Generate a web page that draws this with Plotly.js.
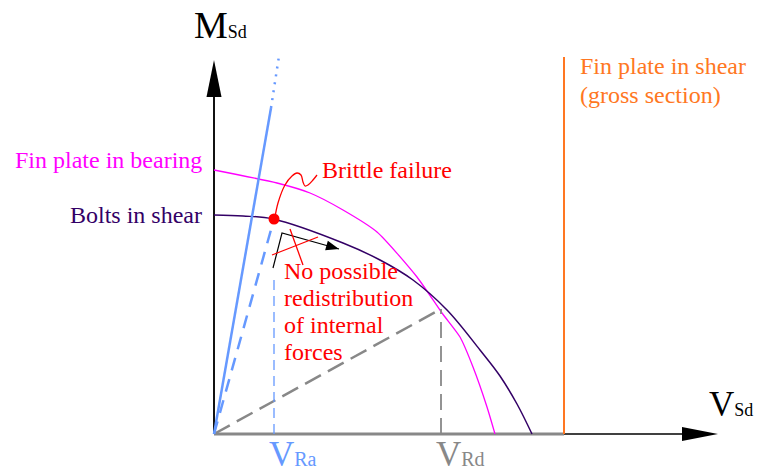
<!DOCTYPE html>
<html>
<head>
<meta charset="utf-8">
<script src="https://cdn.plot.ly/plotly-3.0.1.min.js"></script>
<style>html,body{margin:0;padding:0;background:#fff;}</style>
</head>
<body>
<div id="chart" style="width:764px;height:473px;"></div>
<script>
// M-V interaction diagram of a fin plate connection.
// Diagram units: V to the right, M upward, origin at the corner of the axes.

// Resistance curves
const boltsV   = [0, 29, 59, 129, 166, 199, 233, 266, 286, 303, 318];
const boltsM   = [219, 218, 215, 191, 174, 154, 124, 84, 58, 30, 0];
const bearingV = [0, 63, 96, 129, 163, 203, 228, 246, 259, 273, 281];
const bearingM = [264, 251, 241, 224, 202, 157, 121, 97, 67, 27, 0];
const plateShearV = [350, 350];
const plateShearM = [0, 377];

// Load path up to the brittle bolt failure
const solidPathV  = [0, 57];
const solidPathM  = [0, 326];
const dottedPathV = [57, 65];
const dottedPathM = [326, 378];
const brittleV = [60];
const brittleM = [215];
const dashedPathV = [0, 60];
const dashedPathM = [0, 215];
const vRaLineV = [60, 60];
const vRaLineM = [0, 154];

// Design load path
const rdPathV  = [0, 227];
const rdPathM  = [0, 125];
const vRdLineV = [227, 227];
const vRdLineM = [0, 125];

// Axes
const vAxisV = [0, 470];
const vAxisM = [0, 0];
const grossAxisV = [0, 350];
const grossAxisM = [0, 0];
const mAxisV = [0, 0];
const mAxisM = [0, 340];
const vAxisTip = 504;
const mAxisTip = 374;

// Callout lines
const squiggleV = [61, 64, 71, 78, 83, 87, 89, 91, 94, 99, 103];
const squiggleM = [217, 231, 249, 258, 261, 259, 252, 248, 249, 254, 259];
const redistV = [59, 68, 125];
const redistM = [166, 201, 185];
const cross1V = [58, 104];
const cross1M = [179, 197];
const cross2V = [76, 89];
const cross2M = [205, 169];

// Text
const labelBearing = 'Fin plate in bearing';
const labelBolts = 'Bolts in shear';
const labelBrittle = 'Brittle failure';
const labelRedist = ['No possible', 'redistribution', 'of internal', 'forces'];
const labelPlate = ['Fin plate in shear', '(gross section)'];

const FACE = 'Liberation Serif, Times New Roman, serif';
const BLUE = '#6699ff', GREY = '#888888', PURPLE = '#330066',
      MAGENTA = '#ff00ff', ORANGE = '#ff7722', RED = '#ff0000';

function line(x, y, color, width, dash, shape, smoothing) {
  const ln = {color: color, width: width, dash: dash || 'solid', shape: shape || 'linear'};
  if (smoothing !== undefined) ln.smoothing = smoothing;
  return {x: x, y: y, type: 'scatter', mode: 'lines', hoverinfo: 'skip', line: ln};
}

const traces = [
  line(vAxisV, vAxisM, '#000', 1.5),
  line(grossAxisV, grossAxisM, GREY, 3),
  line(mAxisV, mAxisM, '#111', 2),
  line(plateShearV, plateShearM, ORANGE, 2),
  line(bearingV, bearingM, MAGENTA, 1.3, 'solid', 'spline', 0.6),
  line(boltsV, boltsM, PURPLE, 1.5, 'solid', 'spline', 1),
  line(rdPathV, rdPathM, GREY, 2.5, '18px,8px'),
  line(vRdLineV, vRdLineM, GREY, 1.8, '16px,8px'),
  line(solidPathV, solidPathM, BLUE, 2.5),
  line(dottedPathV, dottedPathM, BLUE, 2.5, '2px,6px'),
  line(dashedPathV, dashedPathM, BLUE, 2.5, '13px,9px'),
  line(vRaLineV, vRaLineM, BLUE, 1.3, '10px,6px'),
  line(squiggleV, squiggleM, RED, 1.3, 'solid', 'spline', 1),
  line(redistV, redistM, '#000', 1.2),
  line(cross1V, cross1M, RED, 1.3),
  line(cross2V, cross2M, RED, 1.3),
  {x: brittleV, y: brittleM, type: 'scatter', mode: 'markers', hoverinfo: 'skip',
   marker: {color: RED, size: 11, line: {width: 0}}}
];

// Filled arrowhead ending at the last point of a polyline
function arrowHead(xs, ys, len, half) {
  const n = xs.length;
  const tx = xs[n - 1], ty = ys[n - 1];
  const dx = tx - xs[n - 2], dy = ty - ys[n - 2];
  const d = Math.hypot(dx, dy), ux = dx / d, uy = dy / d;
  const bx = tx - ux * len, by = ty - uy * len;
  const px = -uy * half, py = ux * half;
  return {type: 'path', xref: 'x', yref: 'y', fillcolor: '#000', line: {width: 0},
          path: `M${bx + px},${by + py} L${tx},${ty} L${bx - px},${by - py} Z`};
}

const shapes = [
  arrowHead([0, vAxisTip], [0, 0], 36, 7),
  arrowHead([0, 0], [0, mAxisTip], 37, 7.5),
  arrowHead(redistV, redistM, 13, 5)
];

function label(t, x, y, color, size, anchor) {
  return {text: t, x: x, y: y, xref: 'x', yref: 'y', showarrow: false,
          xanchor: anchor || 'left', yanchor: 'middle', borderpad: 0,
          font: {family: FACE, size: size, color: color}};
}

// Plain labels: the tail of each string is set in a sized span, the same
// structure as the subscripted axis labels
function plain(t, x, y, color, anchor) {
  const s = t.charAt(0) + '<span style="font-size:24px">' + t.slice(1) + '</span>';
  return label(s, x, y, color, 24, anchor);
}

const annotations = [
  plain(labelBearing, -11, 274, MAGENTA, 'right'),
  plain(labelBolts, -11, 219, PURPLE, 'right'),
  plain(labelBrittle, 107, 264, RED),
  plain(labelPlate[0], 365, 368, ORANGE),
  plain(labelPlate[1], 365, 339, ORANGE),
  label('M<span style="font-size:18px">Sd</span>', -21, 409, '#000', 38),
  label('V<span style="font-size:18px">Sd</span>', 494, 30, '#000', 35),
  label('V<span style="font-size:20px">Ra</span>', 54, -20, BLUE, 35),
  label('V<span style="font-size:20px">Rd</span>', 221, -20, GREY, 35)
];
labelRedist.forEach((t, i) => annotations.push(plain(t, 69, 163 - 27 * i, RED)));

const layout = {
  width: 764, height: 473,
  margin: {l: 0, r: 0, t: 0, b: 0},
  paper_bgcolor: '#fff', plot_bgcolor: '#fff',
  showlegend: false,
  font: {family: FACE},
  xaxis: {range: [-214, 550], visible: false, fixedrange: true},
  yaxis: {range: [-39, 434], visible: false, fixedrange: true},
  shapes: shapes,
  annotations: annotations
};

Plotly.newPlot('chart', traces, layout, {staticPlot: true, displayModeBar: false});
</script>
</body>
</html>
